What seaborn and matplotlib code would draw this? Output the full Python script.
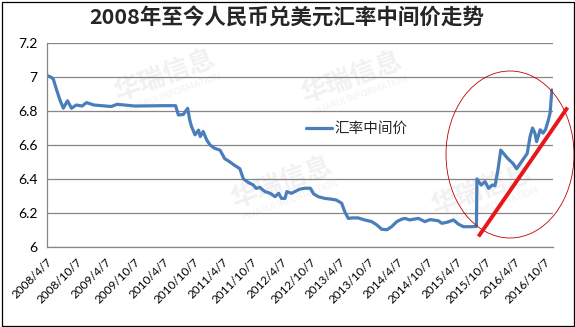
import matplotlib
matplotlib.use("Agg")
import matplotlib.pyplot as plt
from matplotlib.patches import Ellipse, Rectangle
from matplotlib.lines import Line2D
import seaborn as sns
import pandas as pd

title = "2008年至今人民币兑美元汇率中间价走势"
series_name = "汇率中间价"

dates = [
    "2008-04-07", "2008-05-02", "2008-05-16", "2008-06-06", "2008-06-27", "2008-07-18",
    "2008-08-13", "2008-09-07", "2008-10-07", "2008-11-12", "2008-12-10", "2009-01-24",
    "2009-05-13", "2009-06-19", "2009-10-07", "2010-04-07", "2010-06-19", "2010-07-06",
    "2010-08-06", "2010-09-02", "2010-09-15", "2010-09-26", "2010-10-18", "2010-11-09",
    "2010-11-20", "2010-12-08", "2010-12-30", "2011-01-20", "2011-02-19", "2011-03-23",
    "2011-04-21", "2011-05-24", "2011-06-22", "2011-07-25", "2011-08-16", "2011-09-14",
    "2011-10-17", "2011-11-04", "2011-11-26", "2011-12-29", "2012-01-31", "2012-03-01",
    "2012-03-23", "2012-04-10", "2012-05-02", "2012-05-13", "2012-06-11", "2012-08-01",
    "2012-09-03", "2012-10-07", "2012-10-28", "2012-11-26", "2013-01-05", "2013-02-18",
    "2013-03-19", "2013-04-21", "2013-05-10", "2013-06-01", "2013-06-30", "2013-08-01",
    "2013-09-11", "2013-10-25", "2013-11-27", "2013-12-26", "2014-01-28", "2014-02-26",
    "2014-03-31", "2014-04-29", "2014-05-21", "2014-06-19", "2014-08-13", "2014-09-22",
    "2014-10-25", "2014-12-15", "2015-01-06", "2015-02-11", "2015-03-20", "2015-04-18",
    "2015-05-21", "2015-07-04", "2015-08-10", "2015-08-13", "2015-09-08", "2015-10-03",
    "2015-10-25", "2015-11-16", "2015-12-04", "2015-12-22", "2016-01-09", "2016-02-04",
    "2016-02-22", "2016-03-26", "2016-04-17", "2016-05-09", "2016-05-31", "2016-06-22",
    "2016-07-10", "2016-07-25", "2016-08-09", "2016-08-20", "2016-09-11", "2016-09-29",
    "2016-10-14", "2016-11-01", "2016-11-12", "2016-11-23",
]
rates = [
    7.010, 7.000, 6.990, 6.925, 6.865, 6.817,
    6.861, 6.817, 6.836, 6.830, 6.850, 6.836,
    6.827, 6.840, 6.830, 6.832, 6.832, 6.777,
    6.780, 6.816, 6.748, 6.710, 6.660, 6.688,
    6.650, 6.680, 6.630, 6.600, 6.580, 6.570,
    6.520, 6.500, 6.480, 6.460, 6.400, 6.380,
    6.364, 6.344, 6.350, 6.325, 6.315, 6.295,
    6.315, 6.285, 6.285, 6.325, 6.315, 6.339,
    6.345, 6.345, 6.311, 6.295, 6.285, 6.280,
    6.275, 6.256, 6.206, 6.167, 6.170, 6.170,
    6.158, 6.148, 6.128, 6.103, 6.100, 6.118,
    6.148, 6.162, 6.167, 6.158, 6.167, 6.148,
    6.160, 6.153, 6.138, 6.145, 6.158, 6.134,
    6.118, 6.118, 6.120, 6.400, 6.364, 6.384,
    6.344, 6.364, 6.360, 6.452, 6.570, 6.540,
    6.520, 6.490, 6.460, 6.490, 6.520, 6.550,
    6.650, 6.700, 6.670, 6.620, 6.690, 6.670,
    6.690, 6.747, 6.790, 6.925,
]

tick_dates = ["2008-04-07", "2008-10-07", "2009-04-07", "2009-10-07", "2010-04-07",
              "2010-10-07", "2011-04-07", "2011-10-07", "2012-04-07", "2012-10-07",
              "2013-04-07", "2013-10-07", "2014-04-07", "2014-10-07", "2015-04-07",
              "2015-10-07", "2016-04-07", "2016-10-07"]
tick_labels = ["2008/4/7", "2008/10/7", "2009/4/7", "2009/10/7", "2010/4/7",
               "2010/10/7", "2011/4/7", "2011/10/7", "2012/4/7", "2012/10/7",
               "2013/4/7", "2013/10/7", "2014/4/7", "2014/10/7", "2015/4/7",
               "2015/10/7", "2016/4/7", "2016/10/7"]
y_ticks = [6.0, 6.2, 6.4, 6.6, 6.8, 7.0, 7.2]
y_labels = ["6", "6.2", "6.4", "6.6", "6.8", "7", "7.2"]
watermark_cn = "华瑞信息"
watermark_en = "HUARUI INFORMATION"

sns.set_style("white")
plt.rcParams["font.family"] = ["Lato", "Noto Sans CJK SC", "DejaVu Sans"]

W, H = 575, 327
fig = plt.figure(figsize=(W / 100, H / 100), dpi=100)
fig.patch.set_facecolor("white")

def fx(x):
    return x / W

def fy(y):
    return 1 - y / H

ax = fig.add_axes([fx(47), fy(246.7), fx(553) - fx(47), fy(43.3) - fy(246.7)])
ax.set_zorder(2)

# faint watermarks (behind the axes)
for cx, cy in [(165, 76), (352, 78), (282, 183), (482, 190)]:
    fig.text(fx(cx), fy(cy), watermark_cn, rotation=20, ha="center", va="center",
             fontsize=19, fontweight="bold", color="#f1f1f1",
             family=["Noto Sans CJK SC"], zorder=-5)
    fig.text(fx(cx + 8), fy(cy + 17), watermark_en, rotation=20, ha="center", va="center",
             fontsize=6.5, color="#f1f1f1", zorder=-5)

df = pd.DataFrame({"date": pd.to_datetime(dates), "rate": rates, "series": series_name})
blue = "#4A7EBB"
sns.lineplot(data=df, x="date", y="rate", hue="series", palette=[blue],
             linewidth=2.3, ax=ax, legend=True)

ax.set_facecolor("none")
ax.set_xlim(pd.Timestamp("2008-04-07"), pd.Timestamp("2016-11-30"))
ax.set_ylim(6.0, 7.2)
ax.set_yticks(y_ticks)
ax.set_yticklabels(y_labels)
ax.set_xticks(pd.to_datetime(tick_dates))
ax.set_xticklabels(tick_labels, rotation=45, ha="right", rotation_mode="anchor")
ax.set_xlabel("")
ax.set_ylabel("")
for lab in ax.get_yticklabels():
    lab.set_fontsize(10)
for lab in ax.get_xticklabels():
    lab.set_fontsize(8.5)
ax.tick_params(axis="both", direction="out", length=4, width=0.8, color="#868686",
               labelcolor="black")
ax.tick_params(axis="x", pad=3)
ax.tick_params(axis="y", pad=3)
ax.yaxis.grid(True, color="#868686", linewidth=0.9)
ax.xaxis.grid(False)
ax.set_axisbelow(True)
for s in ["top", "right"]:
    ax.spines[s].set_visible(False)
for s in ["left", "bottom"]:
    ax.spines[s].set_color("#868686")
    ax.spines[s].set_linewidth(0.9)

leg = ax.legend(loc="center left", bbox_to_anchor=(0.485, 0.577), frameon=False,
                handlelength=1.8, handletextpad=0.2,
                prop={"family": ["Noto Sans CJK SC"], "size": 10.5})
for h in leg.get_lines():
    h.set_linewidth(2.3)

fig.text(fx(287), fy(18.5), title, ha="center", va="center", fontsize=15.5,
         fontweight="bold", family=["Noto Sans CJK SC"])

# annotations: red ellipse and trend line
ell = Ellipse((fx(510), fy(154.5)), width=fx(128), height=167 / H,
              transform=fig.transFigure, fill=False, edgecolor="#C00000",
              linewidth=0.6, zorder=5)
fig.patches.append(ell)
fig.lines.append(Line2D([fx(478.5), fx(567.5)], [fy(236.5), fy(107.5)],
                        transform=fig.transFigure, color="#E8161B", linewidth=2.8,
                        solid_capstyle="butt", zorder=6))

# outer frame
fig.patches.append(Rectangle((fx(1.5), fy(325.5)), fx(572.5), 324 / H,
                             transform=fig.transFigure, fill=False,
                             edgecolor="black", linewidth=0.9, zorder=7))

fig.savefig("out.png", dpi=100)
